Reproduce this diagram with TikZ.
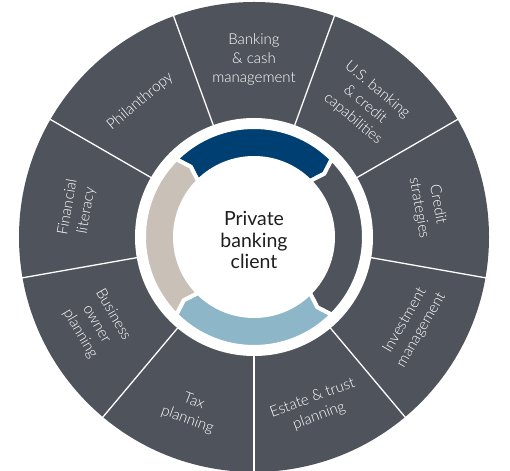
\documentclass[tikz,border=0pt]{standalone}
\usepackage{fontspec}
\setmainfont{Lato}
\newfontfamily\lightf{Lato Light}
\definecolor{sect}{HTML}{4F535C}
\definecolor{navy}{HTML}{003F72}
\definecolor{lblue}{HTML}{8DB6C8}
\definecolor{taupe}{HTML}{C9C0B7}
\definecolor{ctext}{HTML}{1E1E1E}
\tikzset{
  lbl/.style={text=white, align=center, font=\lightf\fontsize{15}{19}\selectfont, inner sep=0pt},
  divider/.style={white, line width=1.3pt},
  arrowseg/.style={draw=white, line width=4pt, line join=miter},
}
\newcommand{\ringarrow}[2]{% #1 start angle (notch), #2 colour
  \pgfmathsetmacro{\e}{#1-90}
  \pgfmathsetmacro{\et}{#1-90-3}
  \pgfmathsetmacro{\st}{#1-3}
  \filldraw[arrowseg, fill=#2] (#1:110) arc[start angle=#1, end angle=\e, radius=110]
    -- (\et:94.5) -- (\e:79) arc[start angle=\e, end angle=#1, radius=79]
    -- (\st:94.5) -- cycle;
}
\begin{document}
\begin{tikzpicture}[x=1pt,y=1pt]
\useasboundingbox (-254,-233) rectangle (256,237);
\fill[sect] (0,0) circle (235);
\foreach \a in {110,70,30,-10,-50,-90,-130,-170,150}
  \draw[divider] (\a:118) -- (\a:236);
\fill[white] (0,0) circle (119);
\ringarrow{135}{navy}
\ringarrow{45}{sect}
\ringarrow{-45}{lblue}
\ringarrow{-135}{taupe}
\fill[white] (0,0) circle (79);
\node[align=center, text=ctext, font=\fontsize{19.5}{21.5}\selectfont, inner sep=0pt] (client) at (0,-3) {Private\\banking\\client};
\node[lbl, rotate=0]   (bank) at (90:178)  {Banking\\\& cash\\management};
\node[lbl, rotate=-40] (us)   at (50:173)  {U.S. banking\\\& credit\\capabilities};
\node[lbl, rotate=-80] (cred) at (10:177)  {Credit\\strategies};
\node[lbl, rotate=60]  (inv)  at (-29:182) {Investment\\management};
\node[lbl, rotate=20]  (est)  at (-70:181) {Estate \& trust\\planning};
\node[lbl, rotate=-20] (tax)  at (-110:185) {Tax\\planning};
\node[lbl, rotate=-60] (bus)  at (-151:180) {Business\\owner\\planning};
\node[lbl, rotate=80]  (fin)  at (171:179) {Financial\\literacy};
\node[lbl, rotate=40]  (phil) at (130:177) {Philanthropy};
\end{tikzpicture}
\end{document}
